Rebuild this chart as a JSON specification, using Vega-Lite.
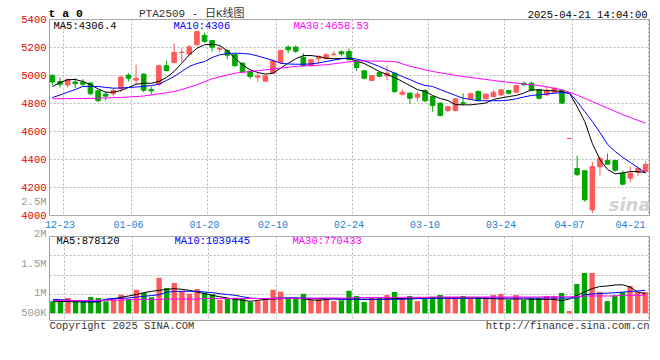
{
  "$schema": "https://vega.github.io/schema/vega-lite/v6.json",
  "background": "white",
  "padding": {"left": 20, "top": 6, "right": 8, "bottom": 4},
  "bounds": "flush",
  "spacing": 21,
  "config": {
    "font": "Liberation Mono",
    "view": {"stroke": "#9c9c9c", "strokeWidth": 1},
    "axis": {"labelFont": "Liberation Mono", "titleFont": "Liberation Mono", "ticks": false, "domain": false, "gridDash": [2, 2], "gridColor": "#b8b8b8", "gridWidth": 1, "labelPadding": 3, "labelOverlap": false}
  },
  "resolve": {"scale": {"x": "independent", "y": "independent", "color": "independent"}, "legend": {"color": "independent"}},
  "datasets": {
    "k": [
      {"d":"2024-12-20","o":4997,"h":5005,"l":4930,"c":4950,"v":313000,"MA5":4918,"MA10":4839,"MA30":4830,"VMA5":313000,"VMA10":364000,"VMA30":333000},
      {"d":"2024-12-23","o":4953,"h":4982,"l":4911,"c":4934,"v":313000,"MA5":4946,"MA10":4857,"MA30":4831,"VMA5":310000,"VMA10":355000,"VMA30":333000},
      {"d":"2024-12-24","o":4929,"h":4975,"l":4911,"c":4968,"v":398000,"MA5":4966,"MA10":4877,"MA30":4831,"VMA5":307000,"VMA10":346000,"VMA30":333000},
      {"d":"2024-12-25","o":4950,"h":4977,"l":4906,"c":4938,"v":313000,"MA5":4968,"MA10":4896,"MA30":4832,"VMA5":300000,"VMA10":327000,"VMA30":333000},
      {"d":"2024-12-26","o":4948,"h":4970,"l":4920,"c":4934,"v":313000,"MA5":4954,"MA10":4918,"MA30":4832,"VMA5":295000,"VMA10":320000,"VMA30":333000},
      {"d":"2024-12-27","o":4942,"h":4949,"l":4859,"c":4866,"v":424000,"MA5":4932,"MA10":4918,"MA30":4833,"VMA5":295000,"VMA10":310000,"VMA30":341000},
      {"d":"2024-12-30","o":4887,"h":4894,"l":4809,"c":4816,"v":398000,"MA5":4901,"MA10":4918,"MA30":4834,"VMA5":295000,"VMA10":307000,"VMA30":341000},
      {"d":"2024-12-31","o":4863,"h":4882,"l":4818,"c":4849,"v":313000,"MA5":4877,"MA10":4911,"MA30":4836,"VMA5":364000,"VMA10":364000,"VMA30":341000},
      {"d":"2025-01-02","o":4866,"h":4906,"l":4846,"c":4889,"v":364000,"MA5":4877,"MA10":4906,"MA30":4838,"VMA5":380000,"VMA10":380000,"VMA30":341000},
      {"d":"2025-01-03","o":4903,"h":4996,"l":4877,"c":4985,"v":483000,"MA5":4889,"MA10":4907,"MA30":4840,"VMA5":416000,"VMA10":390000,"VMA30":341000},
      {"d":"2025-01-06","o":4999,"h":5013,"l":4954,"c":4977,"v":364000,"MA5":4911,"MA10":4911,"MA30":4843,"VMA5":450000,"VMA10":398000,"VMA30":359000},
      {"d":"2025-01-07","o":4963,"h":5073,"l":4930,"c":4977,"v":612000,"MA5":4934,"MA10":4914,"MA30":4846,"VMA5":488000,"VMA10":420000,"VMA30":359000},
      {"d":"2025-01-08","o":5006,"h":5013,"l":4877,"c":4891,"v":527000,"MA5":4941,"MA10":4918,"MA30":4850,"VMA5":535000,"VMA10":442000,"VMA30":359000},
      {"d":"2025-01-09","o":4897,"h":4918,"l":4859,"c":4887,"v":416000,"MA5":4941,"MA10":4925,"MA30":4857,"VMA5":571000,"VMA10":462000,"VMA30":359000},
      {"d":"2025-01-10","o":4934,"h":5073,"l":4920,"c":5066,"v":922000,"MA5":4954,"MA10":4934,"MA30":4865,"VMA5":597000,"VMA10":483000,"VMA30":359000},
      {"d":"2025-01-13","o":5066,"h":5101,"l":5025,"c":5032,"v":656000,"MA5":4982,"MA10":4961,"MA30":4873,"VMA5":623000,"VMA10":553000,"VMA30":372000},
      {"d":"2025-01-14","o":5089,"h":5227,"l":5084,"c":5161,"v":785000,"MA5":5025,"MA10":4989,"MA30":4882,"VMA5":638000,"VMA10":565000,"VMA30":372000},
      {"d":"2025-01-15","o":5161,"h":5191,"l":5096,"c":5163,"v":579000,"MA5":5084,"MA10":5025,"MA30":4896,"VMA5":623000,"VMA10":571000,"VMA30":372000},
      {"d":"2025-01-16","o":5149,"h":5215,"l":5144,"c":5201,"v":509000,"MA5":5144,"MA10":5061,"MA30":4913,"VMA5":597000,"VMA10":571000,"VMA30":372000},
      {"d":"2025-01-17","o":5216,"h":5315,"l":5205,"c":5310,"v":630000,"MA5":5191,"MA10":5082,"MA30":4930,"VMA5":553000,"VMA10":571000,"VMA30":372000},
      {"d":"2025-01-20","o":5283,"h":5302,"l":5230,"c":5240,"v":535000,"MA5":5216,"MA10":5096,"MA30":4952,"VMA5":509000,"VMA10":553000,"VMA30":385000},
      {"d":"2025-01-21","o":5246,"h":5250,"l":5168,"c":5199,"v":493000,"MA5":5220,"MA10":5125,"MA30":4973,"VMA5":468000,"VMA10":535000,"VMA30":385000},
      {"d":"2025-01-22","o":5185,"h":5209,"l":5161,"c":5190,"v":354000,"MA5":5211,"MA10":5144,"MA30":4987,"VMA5":431000,"VMA10":509000,"VMA30":385000},
      {"d":"2025-01-23","o":5175,"h":5182,"l":5113,"c":5141,"v":380000,"MA5":5173,"MA10":5154,"MA30":5000,"VMA5":398000,"VMA10":488000,"VMA30":385000},
      {"d":"2025-01-24","o":5146,"h":5150,"l":5060,"c":5066,"v":406000,"MA5":5120,"MA10":5156,"MA30":5013,"VMA5":364000,"VMA10":468000,"VMA30":385000},
      {"d":"2025-01-27","o":5084,"h":5090,"l":5018,"c":5023,"v":398000,"MA5":5073,"MA10":5154,"MA30":5019,"VMA5":338000,"VMA10":430000,"VMA30":385000},
      {"d":"2025-02-05","o":5027,"h":5030,"l":4973,"c":4989,"v":295000,"MA5":5037,"MA10":5149,"MA30":5025,"VMA5":313000,"VMA10":398000,"VMA30":385000},
      {"d":"2025-02-06","o":4984,"h":5013,"l":4951,"c":4994,"v":320000,"MA5":5018,"MA10":5136,"MA30":5031,"VMA5":338000,"VMA10":385000,"VMA30":385000},
      {"d":"2025-02-07","o":4956,"h":4999,"l":4953,"c":4994,"v":380000,"MA5":5006,"MA10":5120,"MA30":5037,"VMA5":364000,"VMA10":380000,"VMA30":385000},
      {"d":"2025-02-10","o":5013,"h":5110,"l":5010,"c":5101,"v":612000,"MA5":5013,"MA10":5104,"MA30":5043,"VMA5":372000,"VMA10":390000,"VMA30":385000},
      {"d":"2025-02-11","o":5089,"h":5180,"l":5080,"c":5175,"v":561000,"MA5":5049,"MA10":5084,"MA30":5049,"VMA5":380000,"VMA10":398000,"VMA30":390000},
      {"d":"2025-02-12","o":5199,"h":5211,"l":5156,"c":5180,"v":380000,"MA5":5084,"MA10":5079,"MA30":5055,"VMA5":398000,"VMA10":398000,"VMA30":390000},
      {"d":"2025-02-13","o":5199,"h":5211,"l":5156,"c":5170,"v":380000,"MA5":5116,"MA10":5077,"MA30":5061,"VMA5":398000,"VMA10":398000,"VMA30":390000},
      {"d":"2025-02-14","o":5127,"h":5156,"l":5061,"c":5066,"v":509000,"MA5":5139,"MA10":5077,"MA30":5064,"VMA5":372000,"VMA10":398000,"VMA30":390000},
      {"d":"2025-02-17","o":5066,"h":5115,"l":5060,"c":5109,"v":354000,"MA5":5139,"MA10":5079,"MA30":5067,"VMA5":354000,"VMA10":390000,"VMA30":390000},
      {"d":"2025-02-18","o":5116,"h":5144,"l":5084,"c":5132,"v":380000,"MA5":5132,"MA10":5086,"MA30":5070,"VMA5":338000,"VMA10":385000,"VMA30":398000},
      {"d":"2025-02-19","o":5116,"h":5156,"l":5113,"c":5144,"v":380000,"MA5":5120,"MA10":5096,"MA30":5073,"VMA5":359000,"VMA10":380000,"VMA30":398000},
      {"d":"2025-02-20","o":5146,"h":5170,"l":5132,"c":5149,"v":320000,"MA5":5116,"MA10":5107,"MA30":5080,"VMA5":380000,"VMA10":372000,"VMA30":398000},
      {"d":"2025-02-21","o":5166,"h":5175,"l":5132,"c":5151,"v":338000,"MA5":5118,"MA10":5116,"MA30":5087,"VMA5":372000,"VMA10":364000,"VMA30":398000},
      {"d":"2025-02-24","o":5168,"h":5189,"l":5104,"c":5109,"v":586000,"MA5":5118,"MA10":5121,"MA30":5094,"VMA5":368000,"VMA10":368000,"VMA30":398000},
      {"d":"2025-02-25","o":5101,"h":5105,"l":5028,"c":5054,"v":450000,"MA5":5100,"MA10":5114,"MA30":5098,"VMA5":364000,"VMA10":372000,"VMA30":411000},
      {"d":"2025-02-26","o":5030,"h":5035,"l":4970,"c":4977,"v":295000,"MA5":5082,"MA10":5101,"MA30":5101,"VMA5":364000,"VMA10":368000,"VMA30":411000},
      {"d":"2025-02-27","o":4961,"h":5000,"l":4955,"c":4996,"v":424000,"MA5":5054,"MA10":5082,"MA30":5100,"VMA5":364000,"VMA10":364000,"VMA30":411000},
      {"d":"2025-02-28","o":5018,"h":5025,"l":4985,"c":4991,"v":398000,"MA5":5025,"MA10":5061,"MA30":5099,"VMA5":364000,"VMA10":364000,"VMA30":411000},
      {"d":"2025-03-03","o":4994,"h":5066,"l":4961,"c":5013,"v":475000,"MA5":5004,"MA10":5036,"MA30":5098,"VMA5":372000,"VMA10":364000,"VMA30":411000},
      {"d":"2025-03-04","o":5013,"h":5018,"l":4870,"c":4882,"v":553000,"MA5":4982,"MA10":5013,"MA30":5096,"VMA5":380000,"VMA10":364000,"VMA30":416000},
      {"d":"2025-03-05","o":4863,"h":4899,"l":4852,"c":4877,"v":398000,"MA5":4954,"MA10":4989,"MA30":5080,"VMA5":390000,"VMA10":364000,"VMA30":416000},
      {"d":"2025-03-06","o":4870,"h":4873,"l":4791,"c":4834,"v":450000,"MA5":4925,"MA10":4968,"MA30":5063,"VMA5":395000,"VMA10":372000,"VMA30":416000},
      {"d":"2025-03-07","o":4841,"h":4880,"l":4810,"c":4863,"v":320000,"MA5":4896,"MA10":4943,"MA30":5050,"VMA5":398000,"VMA10":380000,"VMA30":416000},
      {"d":"2025-03-10","o":4889,"h":4899,"l":4806,"c":4816,"v":398000,"MA5":4882,"MA10":4925,"MA30":5037,"VMA5":398000,"VMA10":385000,"VMA30":416000},
      {"d":"2025-03-11","o":4846,"h":4850,"l":4739,"c":4782,"v":424000,"MA5":4854,"MA10":4918,"MA30":5025,"VMA5":398000,"VMA10":390000,"VMA30":424000},
      {"d":"2025-03-12","o":4799,"h":4806,"l":4704,"c":4711,"v":475000,"MA5":4832,"MA10":4896,"MA30":5016,"VMA5":398000,"VMA10":390000,"VMA30":424000},
      {"d":"2025-03-13","o":4746,"h":4780,"l":4735,"c":4773,"v":424000,"MA5":4818,"MA10":4875,"MA30":5007,"VMA5":398000,"VMA10":390000,"VMA30":424000},
      {"d":"2025-03-14","o":4746,"h":4835,"l":4740,"c":4830,"v":424000,"MA5":4789,"MA10":4854,"MA30":4998,"VMA5":398000,"VMA10":390000,"VMA30":424000},
      {"d":"2025-03-17","o":4802,"h":4870,"l":4782,"c":4798,"v":450000,"MA5":4787,"MA10":4834,"MA30":4989,"VMA5":398000,"VMA10":390000,"VMA30":424000},
      {"d":"2025-03-18","o":4830,"h":4873,"l":4825,"c":4866,"v":424000,"MA5":4787,"MA10":4825,"MA30":4982,"VMA5":398000,"VMA10":390000,"VMA30":424000},
      {"d":"2025-03-19","o":4882,"h":4890,"l":4811,"c":4818,"v":424000,"MA5":4793,"MA10":4816,"MA30":4975,"VMA5":390000,"VMA10":394000,"VMA30":424000},
      {"d":"2025-03-20","o":4830,"h":4870,"l":4825,"c":4863,"v":424000,"MA5":4800,"MA10":4816,"MA30":4968,"VMA5":385000,"VMA10":398000,"VMA30":424000},
      {"d":"2025-03-21","o":4846,"h":4895,"l":4840,"c":4877,"v":475000,"MA5":4825,"MA10":4816,"MA30":4961,"VMA5":380000,"VMA10":398000,"VMA30":424000},
      {"d":"2025-03-24","o":4858,"h":4900,"l":4850,"c":4894,"v":501000,"MA5":4836,"MA10":4816,"MA30":4954,"VMA5":375000,"VMA10":398000,"VMA30":424000},
      {"d":"2025-03-25","o":4889,"h":4895,"l":4860,"c":4870,"v":346000,"MA5":4846,"MA10":4821,"MA30":4948,"VMA5":372000,"VMA10":398000,"VMA30":424000},
      {"d":"2025-03-26","o":4877,"h":4930,"l":4870,"c":4925,"v":475000,"MA5":4854,"MA10":4830,"MA30":4942,"VMA5":372000,"VMA10":398000,"VMA30":424000},
      {"d":"2025-03-27","o":4941,"h":4954,"l":4925,"c":4930,"v":346000,"MA5":4871,"MA10":4843,"MA30":4936,"VMA5":372000,"VMA10":398000,"VMA30":424000},
      {"d":"2025-03-28","o":4941,"h":4954,"l":4885,"c":4889,"v":398000,"MA5":4894,"MA10":4854,"MA30":4930,"VMA5":368000,"VMA10":398000,"VMA30":424000},
      {"d":"2025-03-31","o":4894,"h":4900,"l":4825,"c":4834,"v":398000,"MA5":4894,"MA10":4859,"MA30":4925,"VMA5":364000,"VMA10":398000,"VMA30":424000},
      {"d":"2025-04-01","o":4858,"h":4923,"l":4850,"c":4889,"v":450000,"MA5":4889,"MA10":4864,"MA30":4915,"VMA5":364000,"VMA10":398000,"VMA30":429000},
      {"d":"2025-04-02","o":4877,"h":4910,"l":4870,"c":4906,"v":450000,"MA5":4887,"MA10":4870,"MA30":4905,"VMA5":364000,"VMA10":398000,"VMA30":429000},
      {"d":"2025-04-03","o":4889,"h":4900,"l":4795,"c":4799,"v":527000,"MA5":4882,"MA10":4873,"MA30":4894,"VMA5":328000,"VMA10":398000,"VMA30":429000},
      {"d":"2025-04-07","o":4545,"h":4548,"l":4545,"c":4547,"v":62000,"MA5":4868,"MA10":4871,"MA30":4877,"VMA5":372000,"VMA10":398000,"VMA30":429000},
      {"d":"2025-04-08","o":4332,"h":4423,"l":4277,"c":4289,"v":760000,"MA5":4775,"MA10":4811,"MA30":4856,"VMA5":468000,"VMA10":398000,"VMA30":429000},
      {"d":"2025-04-09","o":4316,"h":4316,"l":4094,"c":4109,"v":1044000,"MA5":4668,"MA10":4739,"MA30":4834,"VMA5":553000,"VMA10":483000,"VMA30":450000},
      {"d":"2025-04-10","o":4037,"h":4380,"l":4013,"c":4346,"v":1044000,"MA5":4511,"MA10":4668,"MA30":4811,"VMA5":638000,"VMA10":500000,"VMA30":450000},
      {"d":"2025-04-11","o":4344,"h":4418,"l":4282,"c":4404,"v":553000,"MA5":4396,"MA10":4589,"MA30":4787,"VMA5":695000,"VMA10":514000,"VMA30":450000},
      {"d":"2025-04-14","o":4389,"h":4439,"l":4360,"c":4363,"v":320000,"MA5":4325,"MA10":4504,"MA30":4763,"VMA5":708000,"VMA10":525000,"VMA30":450000},
      {"d":"2025-04-15","o":4389,"h":4392,"l":4309,"c":4320,"v":468000,"MA5":4294,"MA10":4454,"MA30":4740,"VMA5":734000,"VMA10":535000,"VMA30":450000},
      {"d":"2025-04-16","o":4296,"h":4318,"l":4211,"c":4220,"v":553000,"MA5":4300,"MA10":4411,"MA30":4716,"VMA5":741000,"VMA10":550000,"VMA30":468000},
      {"d":"2025-04-17","o":4263,"h":4346,"l":4234,"c":4299,"v":708000,"MA5":4311,"MA10":4375,"MA30":4696,"VMA5":682000,"VMA10":566000,"VMA30":468000},
      {"d":"2025-04-18","o":4306,"h":4339,"l":4280,"c":4332,"v":553000,"MA5":4309,"MA10":4339,"MA30":4676,"VMA5":553000,"VMA10":580000,"VMA30":468000},
      {"d":"2025-04-21","o":4311,"h":4382,"l":4304,"c":4361,"v":553000,"MA5":4304,"MA10":4300,"MA30":4656,"VMA5":509000,"VMA10":597000,"VMA30":468000}
    ]
  },
  "vconcat": [
    {
      "width": 600,
      "height": 196,
      "data": {"name": "k"},
      "title": {"text": "PTA2509 - 日K线图", "anchor": "start", "frame": "group", "dx": 90, "offset": -12, "font": "Liberation Mono, Noto Sans CJK SC", "fontSize": 11, "fontWeight": "normal", "color": "#333333"},
      "encoding": {
        "x": {
          "field": "d", "type": "ordinal", "sort": null,
          "scale": {"type": "band", "paddingInner": 0.4, "paddingOuter": 0.15},
          "axis": {
            "values": ["2024-12-23", "2025-01-06", "2025-01-20", "2025-02-10", "2025-02-24", "2025-03-10", "2025-03-24", "2025-04-07", "2025-04-21"],
            "labelExpr": "substring(datum.label, 5)",
            "bandPosition": 1.2, "grid": true, "labelAngle": 0, "labelFlush": 8, "labelOverlap": false,
            "labelColor": "#1a84d8", "labelFontSize": 10, "labelPadding": 4,
            "title": "2025-04-21 14:04:00", "titleX": 598, "titleY": -198, "titleAlign": "right", "titleBaseline": "alphabetic",
            "titleFontSize": 10.5, "titleFontWeight": "normal", "titleColor": "#000000"
          }
        }
      },
      "layer": [
        {
          "mark": {"type": "rule", "strokeWidth": 1},
          "encoding": {
            "y": {
              "field": "l", "type": "quantitative",
              "scale": {"domain": [4000, 5400], "nice": false, "zero": false},
              "axis": {
                "values": [4000, 4100, 4200, 4400, 4600, 4800, 5000, 5200, 5400], "tickCount": 30,
                "labelExpr": "datum.value == 4100 ? '2.5M' : datum.value + ''",
                "labelColor": {"condition": {"test": "datum.value == 4100", "value": "#999999"}, "value": "#e60000"},
                "gridOpacity": {"condition": {"test": "datum.value == 4100", "value": 0}, "value": 1},
                "labelOverlap": false, "grid": true, "labelFontSize": 10.5,
                "title": "t a 0", "titleAngle": 0, "titleX": -1, "titleY": -3, "titleAlign": "left", "titleBaseline": "alphabetic",
                "titleFontSize": 11.5, "titleFontWeight": "bold", "titleColor": "#000000"
              }
            },
            "y2": {"field": "h"},
            "color": {"condition": {"test": "datum.c >= datum.o", "value": "#ff5a5a"}, "value": "#00a600"}
          }
        },
        {
          "mark": {"type": "bar", "strokeWidth": 1},
          "encoding": {
            "y": {"field": "o", "type": "quantitative"},
            "y2": {"field": "c"},
            "color": {"condition": {"test": "datum.c >= datum.o", "value": "#ff5a5a"}, "value": "#00a600"},
            "stroke": {"condition": {"test": "datum.c >= datum.o", "value": "#ff5a5a"}, "value": "#00a600"}
          }
        },
        {
          "transform": [{"fold": ["MA5", "MA10", "MA30"], "as": ["ma", "mv"]}],
          "mark": {"type": "line", "strokeWidth": 1, "clip": true},
          "encoding": {
            "y": {"field": "mv", "type": "quantitative"},
            "color": {
              "field": "ma", "type": "nominal",
              "scale": {"domain": ["MA5", "MA10", "MA30"], "range": ["#000000", "#0000ff", "#ff00ff"]},
              "legend": {
                "orient": "none", "legendX": -6, "legendY": 2, "direction": "horizontal", "columns": 3, "gridAlign": "all",
                "columnPadding": 33, "title": null, "symbolSize": 0, "symbolStrokeWidth": 0, "symbolOpacity": 0, "labelOffset": 0,
                "labelFont": "Liberation Mono", "labelFontSize": 10.5, "labelLimit": 0, "padding": 0,
                "labelExpr": "datum.label == 'MA5' ? 'MA5:4306.4' : datum.label == 'MA10' ? 'MA10:4306' : 'MA30:4658.53'",
                "encode": {"labels": {"update": {"fill": {"signal": "datum.value == 'MA5' ? '#000000' : datum.value == 'MA10' ? '#0000ff' : '#ff00ff'"}}}}
              }
            }
          }
        },
        {
          "data": {"values": [{"w": "sina"}]},
          "mark": {"type": "text", "font": "DejaVu Sans", "fontStyle": "italic", "fontWeight": "bold", "fontSize": 18, "color": "#d2d2d2", "align": "right", "baseline": "alphabetic", "dx": 5},
          "encoding": {"x": {"datum": "2025-04-21"}, "y": {"datum": 4030}, "text": {"field": "w"}}
        }
      ]
    },
    {
      "width": 600,
      "height": 84,
      "data": {"name": "k"},
      "encoding": {
        "x": {
          "field": "d", "type": "ordinal", "sort": null,
          "scale": {"type": "band", "paddingInner": 0.3, "paddingOuter": 0.15},
          "axis": {
            "values": ["2024-12-23", "2025-01-06", "2025-01-20", "2025-02-10", "2025-02-24", "2025-03-10", "2025-03-24", "2025-04-07", "2025-04-21"],
            "bandPosition": 1.2, "grid": true, "labels": false,
            "title": "http://finance.sina.com.cn", "titleX": 600, "titleY": 8, "titleAlign": "right", "titleBaseline": "alphabetic",
            "titleFontSize": 10.5, "titleFontWeight": "normal", "titleColor": "#333333"
          }
        }
      },
      "layer": [
        {
          "mark": {"type": "bar"},
          "encoding": {
            "y": {
              "field": "v", "type": "quantitative",
              "scale": {"domain": [-170000, 2000000], "nice": false, "zero": false},
              "axis": {
                "values": [500000, 1000000, 1500000, 2000000], "tickCount": 30,
                "labelExpr": "datum.value >= 1000000 ? (datum.value / 1000000) + 'M' : (datum.value / 1000) + 'K'",
                "labelOverlap": false,
                "grid": true, "labelColor": "#999999", "labelFontSize": 10.5,
                "labelOffset": {"condition": [{"test": "datum.value == 2000000", "value": -3}, {"test": "datum.value == 1500000", "value": 8}], "value": 18},
                "title": "Copyright 2025 SINA.COM", "titleAngle": 0, "titleX": 0, "titleY": 92, "titleAlign": "left", "titleBaseline": "alphabetic",
                "titleFontSize": 10.5, "titleFontWeight": "normal", "titleColor": "#333333"
              }
            },
            "color": {"condition": {"test": "datum.c >= datum.o", "value": "#ff5a5a"}, "value": "#00a600"}
          }
        },
        {
          "transform": [{"fold": ["VMA5", "VMA10", "VMA30"], "as": ["vk", "vv"]}],
          "mark": {"type": "line", "strokeWidth": 1, "clip": true},
          "encoding": {
            "y": {"field": "vv", "type": "quantitative"},
            "color": {
              "field": "vk", "type": "nominal",
              "scale": {"domain": ["VMA5", "VMA10", "VMA30"], "range": ["#000000", "#0000ff", "#ff00ff"]},
              "legend": {
                "orient": "none", "legendX": -3, "legendY": 0, "direction": "horizontal", "columns": 3, "gridAlign": "all",
                "columnPadding": 31, "title": null, "symbolSize": 0, "symbolStrokeWidth": 0, "symbolOpacity": 0, "labelOffset": 0,
                "labelFont": "Liberation Mono", "labelFontSize": 10.5, "labelLimit": 0, "padding": 0,
                "labelExpr": "datum.label == 'VMA5' ? 'MA5:878120' : datum.label == 'VMA10' ? 'MA10:1039445' : 'MA30:770433'",
                "encode": {"labels": {"update": {"fill": {"signal": "datum.value == 'VMA5' ? '#000000' : datum.value == 'VMA10' ? '#0000ff' : '#ff00ff'"}}}}
              }
            }
          }
        }
      ]
    }
  ]
}
